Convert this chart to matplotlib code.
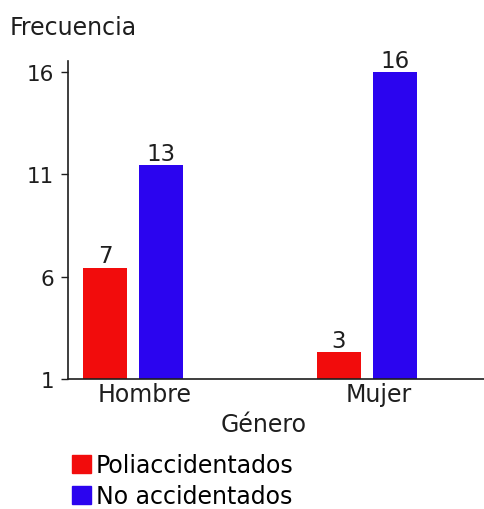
import numpy as np
from matplotlib import pyplot as plt
from matplotlib.patches import Patch

generos = ['Hombre', 'Mujer']
series = ['Poliaccidentados', 'No accidentados']
# altura de las barras tal como se ven contra el eje
poli = [6.45, 2.3]
no_acc = [11.45, 16.0]
# etiquetas escritas sobre las barras
poli_lbl = ['7', '3']
no_acc_lbl = ['13', '16']
y_ticks = [1, 6, 11, 16]

rojo = '#f20c0c'
azul = '#2b04ef'
texto = '#1e1e1e'

plt.rcParams['font.family'] = ['DejaVu Sans']

fig = plt.figure(figsize=(4.85, 5.10), dpi=100)
ax = fig.add_axes([68 / 485, 1 - 380 / 510, 1 - 68 / 485, (380 - 62) / 510])

x = np.arange(len(generos))
w = 0.19
off = 0.12
b1 = ax.bar(x - off, poli, w, color=rojo)
b2 = ax.bar(x + off, no_acc, w, color=azul)

for bars, lbls in ((b1, poli_lbl), (b2, no_acc_lbl)):
    for r, t in zip(bars, lbls):
        ax.text(r.get_x() + r.get_width() / 2, r.get_height() + 0.02, t,
                ha='center', va='bottom', fontsize=16.5, color=texto)

ax.set_xlim(-0.278, 1.504)
ax.set_ylim(1, 16.55)
ax.set_yticks(y_ticks)
ax.set_xticks(x + 0.05)
ax.set_xticklabels(generos)
ax.tick_params(axis='y', labelsize=15.5, length=5, width=1, pad=5, colors=texto)
ax.tick_params(axis='x', labelsize=17, length=0, pad=2, colors=texto)
for s in ('top', 'right'):
    ax.spines[s].set_visible(False)
for s in ('left', 'bottom'):
    ax.spines[s].set_color(texto)
    ax.spines[s].set_linewidth(1.2)

fig.text(10 / 485, 1 - 35 / 510, 'Frecuencia', fontsize=17, color=texto,
         ha='left', va='baseline')
fig.text(264 / 485, 1 - 425 / 510, 'Género', fontsize=17, color=texto,
         ha='center', va='center')

handles = [Patch(color=rojo), Patch(color=azul)]
fig.legend(handles, series, loc='upper left', bbox_to_anchor=(72 / 485, 1 - 454 / 510),
           frameon=False, fontsize=17, handlelength=0.8, handleheight=0.8,
           handletextpad=0.2, labelspacing=0.3, borderpad=0, borderaxespad=0)

plt.savefig('out.png', dpi=100)
